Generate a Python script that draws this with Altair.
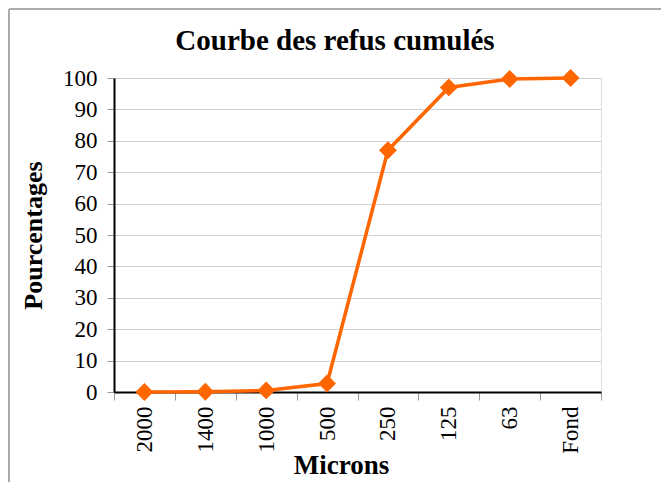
import altair as alt
import pandas as pd

categories = ["2000", "1400", "1000", "500", "250", "125", "63", "Fond"]
values = [0.0, 0.1, 0.5, 2.7, 77.0, 97.0, 99.7, 100.0]
y_ticks = [0, 10, 20, 30, 40, 50, 60, 70, 80, 90, 100]
title_text = ["Courbe des refus cumulés"]

df = pd.DataFrame({"Microns": categories, "Pourcentages": values})

FONT = "Liberation Serif"
ORANGE = "#FF6600"

x_enc = alt.X("Microns:N", sort=categories, scale=alt.Scale(paddingInner=0, paddingOuter=0),
              axis=alt.Axis(title="Microns", labelAngle=270, tickBand="extent",
                            labelFont=FONT, labelFontSize=23, labelColor="black",
                            labelPadding=6, labelBaseline="middle", labelAlign="right",
                            labelOverlap=False,
                            titleFont=FONT, titleFontSize=27, titleFontWeight="bold",
                            titleColor="black", titleX=227, titleY=81,
                            titleBaseline="alphabetic", titleAlign="center",
                            domainColor="black", domainWidth=2,
                            tickColor="#999999", tickSize=8, tickWidth=1, grid=False))
y_enc = alt.Y("Pourcentages:Q", scale=alt.Scale(domain=[0, 100], nice=False),
              axis=alt.Axis(title="Pourcentages", values=y_ticks,
                            labelFont=FONT, labelFontSize=23, labelColor="black",
                            labelPadding=10, labelOverlap=False,
                            titleFont=FONT, titleFontSize=26, titleFontWeight="bold",
                            titleColor="black", titleX=-73, titleY=157,
                            titleBaseline="alphabetic", titleAlign="center", titleAngle=270,
                            domainColor="black", domainWidth=2,
                            tickColor="#999999", tickSize=7, tickWidth=1,
                            grid=True, gridColor="#d0d0d0", gridWidth=1))

base = alt.Chart(df).encode(x=x_enc, y=y_enc)

line = base.mark_line(color=ORANGE, strokeWidth=3.5)
points = base.mark_point(shape="diamond", filled=True, color=ORANGE, size=320, opacity=1)

title_df = pd.DataFrame({"t": title_text})
title = alt.Chart(title_df).mark_text(
    font=FONT, fontSize=29, fontWeight="bold", color="black",
    align="center", baseline="alphabetic", clip=False
).encode(text="t:N", x=alt.value(221), y=alt.value(-28))

border = alt.Chart(title_df).mark_rule(color="#aaaaaa", strokeWidth=2, clip=False).encode(
    x=alt.value(-105), x2=alt.value(600), y=alt.value(-69)
)
border_left = alt.Chart(title_df).mark_rule(color="#aaaaaa", strokeWidth=2, clip=False).encode(
    x=alt.value(-105), y=alt.value(-69), y2=alt.value(450)
)

chart = alt.layer(line, points, border, border_left, title).properties(
    width=487,
    height=314,
    padding={"left": 106, "top": 70, "right": 60, "bottom": 90},
    autosize=alt.AutoSizeParams(type="none"),
).configure_view(
    stroke="#999999", strokeWidth=2
).configure(background="white")

chart.save("out.html", embed_options={"renderer": "svg", "actions": False})
